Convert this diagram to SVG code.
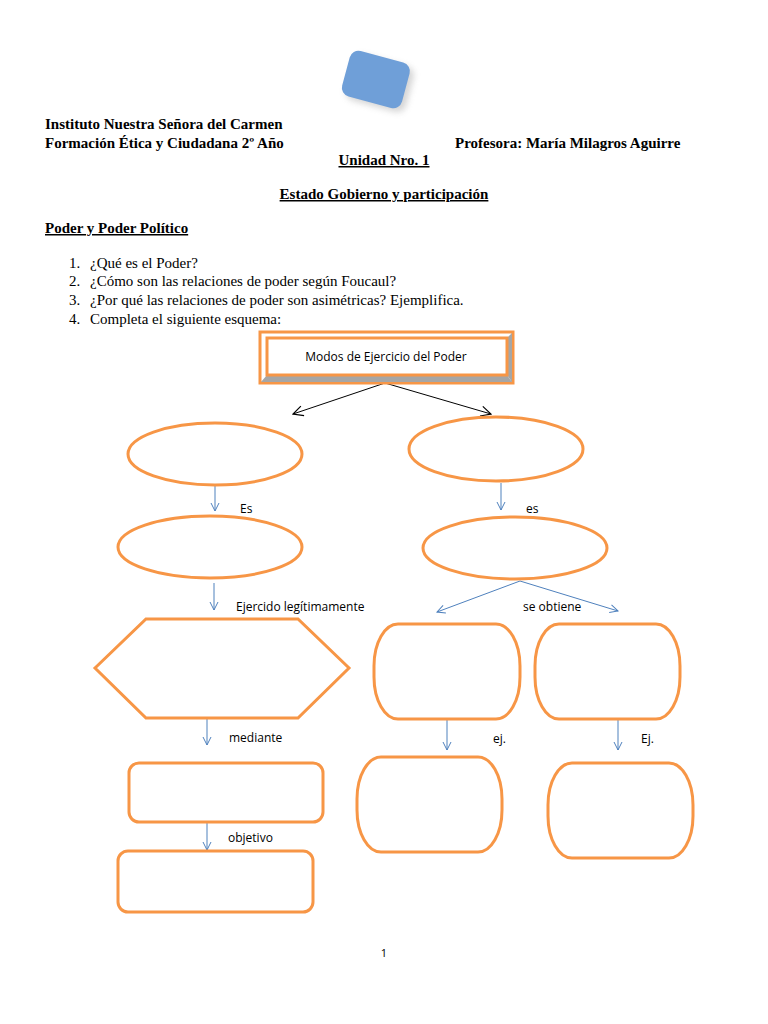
<svg xmlns="http://www.w3.org/2000/svg" width="768" height="1024" viewBox="0 0 768 1024">
<style>
.hd{font-family:"Liberation Serif","Times New Roman",serif;font-size:15px;font-weight:bold;fill:#000}
.tx{font-family:"Liberation Serif","Times New Roman",serif;font-size:15px;fill:#000}
.lb{font-family:"Open Sans","Liberation Sans",sans-serif;font-size:12px;fill:#000}
.nd{fill:#fff;stroke:#f79646;stroke-width:3}
.ab{stroke:#4f81bd;stroke-width:1;fill:none}
.ak{stroke:#000;stroke-width:1;fill:none}
</style>
<defs>
<marker id="mb" viewBox="0 0 10 10" refX="9" refY="5" markerWidth="10" markerHeight="10" markerUnits="userSpaceOnUse" orient="auto"><path d="M1,1 L9,5 L1,9" fill="none" stroke="#4f81bd" stroke-width="1"/></marker>
<marker id="mk" viewBox="0 0 12 12" refX="11" refY="6" markerWidth="12" markerHeight="12" markerUnits="userSpaceOnUse" orient="auto"><path d="M1,1 L11,6 L1,11" fill="none" stroke="#000" stroke-width="1.2"/></marker>
<filter id="sh" x="-30%" y="-30%" width="160%" height="160%"><feGaussianBlur stdDeviation="3"/></filter>
</defs>
<rect width="768" height="1024" fill="#fff"/>
<g id="logo">
<rect x="-31" y="-23" width="62" height="47" rx="9" fill="#888" opacity="0.35" filter="url(#sh)" transform="translate(380,83) rotate(15)"/>
<rect x="-31" y="-23" width="62" height="47" rx="9" fill="#6f9fd8" transform="translate(376,79) rotate(15)"/>
</g>
<g id="header">
<text class="hd" x="45" y="129">Instituto Nuestra Señora del Carmen</text>
<text class="hd" x="45" y="148">Formación Ética y Ciudadana 2º Año</text>
<text class="hd" x="455" y="148">Profesora: María Milagros Aguirre</text>
<text class="hd" x="384" y="165" text-anchor="middle" text-decoration="underline">Unidad Nro. 1</text>
<text class="hd" x="384" y="199" text-anchor="middle" text-decoration="underline">Estado Gobierno y participación</text>
<text class="hd" x="45" y="233" text-decoration="underline">Poder y Poder Político</text>
<text class="tx" x="69" y="268">1.</text><text class="tx" x="90" y="268">¿Qué es el Poder?</text>
<text class="tx" x="69" y="286">2.</text><text class="tx" x="90" y="286">¿Cómo son las relaciones de poder según Foucaul?</text>
<text class="tx" x="69" y="305">3.</text><text class="tx" x="90" y="305">¿Por qué las relaciones de poder son asimétricas? Ejemplifica.</text>
<text class="tx" x="69" y="324">4.</text><text class="tx" x="90" y="324">Completa el siguiente esquema:</text>
</g>
<g id="connectors">
<line class="ak" x1="385" y1="383" x2="293" y2="414" marker-end="url(#mk)"/>
<line class="ak" x1="385" y1="383" x2="491" y2="414" marker-end="url(#mk)"/>
<line class="ab" x1="215" y1="486" x2="215" y2="511" marker-end="url(#mb)"/>
<line class="ab" x1="501" y1="483" x2="501" y2="510" marker-end="url(#mb)"/>
<line class="ab" x1="214" y1="583" x2="214" y2="610" marker-end="url(#mb)"/>
<line class="ab" x1="520" y1="581" x2="437" y2="612" marker-end="url(#mb)"/>
<line class="ab" x1="520" y1="581" x2="618" y2="611" marker-end="url(#mb)"/>
<line class="ab" x1="207" y1="719" x2="207" y2="745" marker-end="url(#mb)"/>
<line class="ab" x1="447" y1="720" x2="447" y2="750" marker-end="url(#mb)"/>
<line class="ab" x1="618" y1="720" x2="618" y2="750" marker-end="url(#mb)"/>
<line class="ab" x1="207" y1="823" x2="207" y2="850" marker-end="url(#mb)"/>
<text class="lb" x="240" y="513">Es</text>
<text class="lb" x="526" y="513">es</text>
<text class="lb" x="236" y="611">Ejercido legítimamente</text>
<text class="lb" x="523" y="611">se obtiene</text>
<text class="lb" x="229" y="742">mediante</text>
<text class="lb" x="493" y="743">ej.</text>
<text class="lb" x="641" y="743">Ej.</text>
<text class="lb" x="228" y="842">objetivo</text>
</g>
<g id="n-modos">
<rect x="260" y="332" width="253" height="51" fill="#fff" stroke="#f79646" stroke-width="3"/>
<polygon points="507,338 512,333 512,382 507,375" fill="#a6a6a6"/>
<polygon points="267,375 507,375 512,382 261,382" fill="#a6a6a6"/>
<rect x="267" y="338" width="240" height="37" fill="#fff" stroke="#f79646" stroke-width="3"/>
<text class="lb" x="386" y="361" text-anchor="middle">Modos de Ejercicio del Poder</text>
</g>
<g id="n-l1"><ellipse class="nd" cx="215" cy="454" rx="87" ry="31"/></g>
<g id="n-l2"><ellipse class="nd" cx="210" cy="547" rx="92" ry="31"/></g>
<g id="n-r1"><ellipse class="nd" cx="496" cy="449" rx="87" ry="32"/></g>
<g id="n-r2"><ellipse class="nd" cx="515" cy="548" rx="92" ry="31"/></g>
<g id="n-hex"><polygon class="nd" points="95,668 146,619 298,619 349,668 298,718 146,718"/></g>
<g id="n-a"><rect class="nd" x="374" y="624" width="146" height="95" rx="24" ry="42"/></g>
<g id="n-b"><rect class="nd" x="535" y="624" width="145" height="95" rx="24" ry="42"/></g>
<g id="n-c"><rect class="nd" x="357" y="757" width="145" height="95" rx="24" ry="42"/></g>
<g id="n-d"><rect class="nd" x="548" y="763" width="145" height="95" rx="24" ry="42"/></g>
<g id="n-e"><rect class="nd" x="129" y="763" width="194" height="59" rx="10"/></g>
<g id="n-f"><rect class="nd" x="118" y="851" width="195" height="61" rx="10"/></g>
<text class="lb" x="384" y="957" text-anchor="middle" style="font-size:11px">1</text>
</svg>
